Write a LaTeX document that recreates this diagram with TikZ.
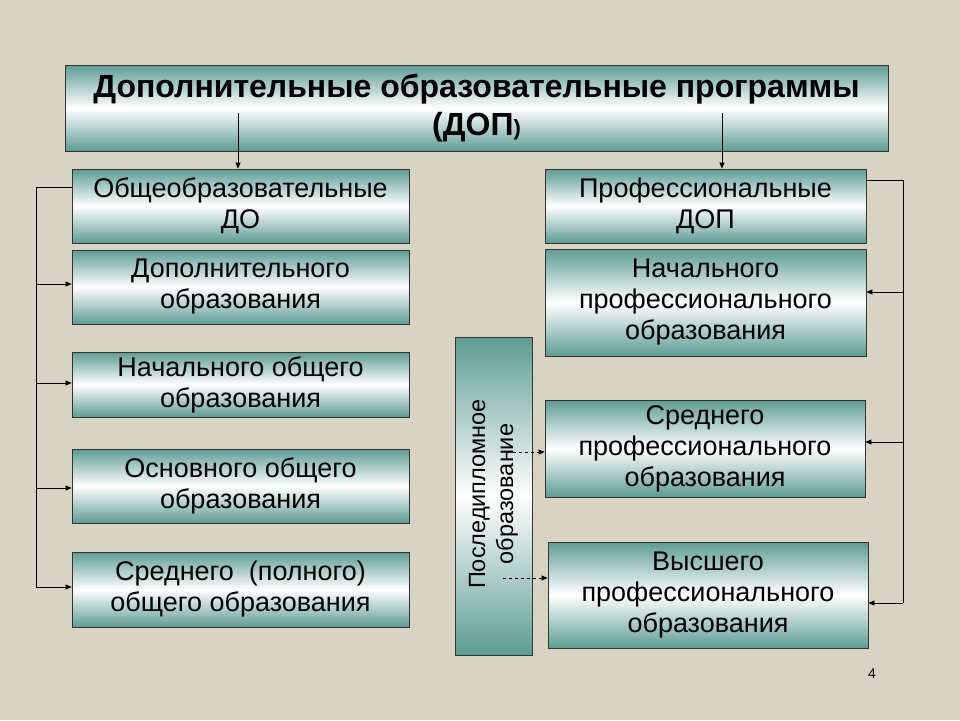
\documentclass[tikz,border=0pt]{standalone}
\usepackage{fontspec}
\setmainfont{Liberation Sans}
\usetikzlibrary{arrows.meta}
\definecolor{bg}{HTML}{D9D3C3}
\definecolor{tl}{HTML}{5E9C94}
\begin{document}
\begin{tikzpicture}[x=1pt,y=-1pt,
  box/.style={draw=black!80,line width=0.8pt,top color=tl,bottom color=tl,middle color=white,align=center,font=\fontsize{27}{31}\selectfont,inner sep=0pt},
  con/.style={line width=0.7pt,-{Triangle[length=6pt,width=5pt]}},
  dcon/.style={line width=0.7pt,dashed,-{Triangle[length=6pt,width=5pt]}}]
\fill[bg] (0,0) rectangle (960,720);
\useasboundingbox (0,0) rectangle (960,720);
\newcommand{\bx}[6]{\node[box,minimum width={#4-#2},minimum height={#5-#3}] (#1) at ({(#2+#4)/2},{(#3+#5)/2}) {#6};}
\node[box,minimum width=823,minimum height=86,font=\fontsize{32}{38}\selectfont\bfseries] (t) at (476.5,108) {Дополнительные образовательные программы\\(ДОП{\fontsize{22}{24}\selectfont)}};
\bx{l1}{72}{169}{409}{243}{Общеобразовательные\\ДО}
\bx{l2}{72}{250}{409}{324}{Дополнительного\\образования}
\bx{l3}{72}{352}{409}{417}{Начального общего\\образования}
\bx{l4}{72}{449}{409}{523}{Основного общего\\образования}
\bx{l5}{72}{552}{409}{627}{Среднего\ \ (полного)\\общего образования}
\bx{r1}{545}{169}{866}{243}{Профессиональные\\ДОП}
\bx{r2}{545}{249}{866}{356}{Начального\\профессионального\\образования}
\bx{r3}{545}{400}{865}{497}{Среднего\\профессионального\\образования}
\bx{r4}{548}{542}{868}{648}{Высшего\\профессионального\\образования}
\node[box,minimum width=77,minimum height=318] (v) at (493.5,496) {};
\node[rotate=90,align=center,font=\fontsize{23.5}{28}\selectfont] (vt) at (493.5,494) {Последипломное\\образование};
\coordinate (ta) at (238,113); \coordinate (tb) at (722,113);
\draw[con] (ta) -- (l1.north -| ta);
\draw[con] (tb) -- (r1.north -| tb);
\coordinate (lc) at (36,187);
\draw[line width=0.7pt] (l1.west |- lc) -- (lc) -- (36,587);
\foreach \n/\yy in {l2/284,l3/383,l4/488,l5/587} \draw[con] (36,\yy) -- (\n.west |- 0,\yy);
\coordinate (rc) at (903,180);
\draw[line width=0.7pt] (r1.east |- rc) -- (rc) -- (903,603);
\foreach \n/\yy in {r2/292,r3/442,r4/603} \draw[con] (903,\yy) -- (\n.east |- 0,\yy);
\coordinate (d1) at (507,452); \coordinate (d2) at (503,578);
\draw[dcon] (d1) -- (r3.west |- d1);
\draw[dcon] (d2) -- (r4.west |- d2);
\node[font=\fontsize{14}{16}\selectfont] (pn) at (872,674) {4};
\end{tikzpicture}
\end{document}
